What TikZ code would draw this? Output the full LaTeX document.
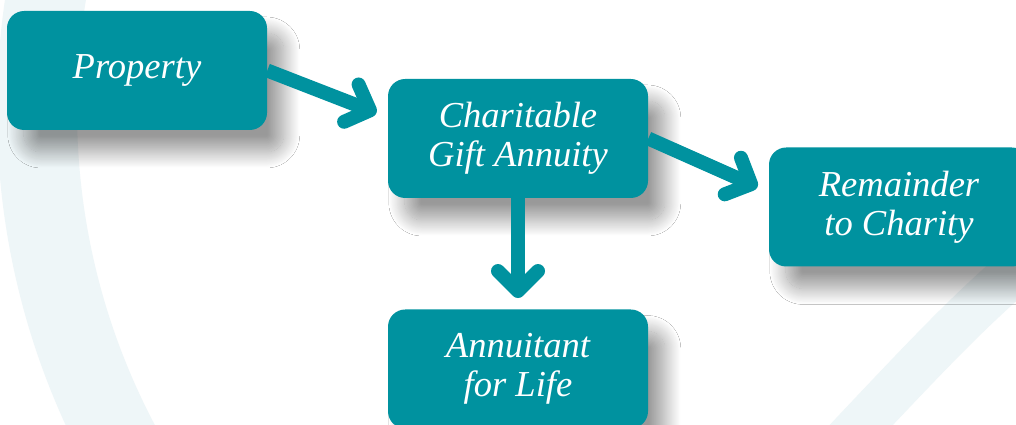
\documentclass[tikz,border=0pt]{standalone}
\usepackage{fontspec}
\setmainfont{Liberation Serif}
\usetikzlibrary{arrows.meta,shadows.blur}
\definecolor{cgateal}{HTML}{00929F}
\definecolor{ringtint}{HTML}{EEF6F8}
\begin{document}
\begin{tikzpicture}[
    box/.style={fill=cgateal, rounded corners=0.43cm, minimum width=6.5cm,
        minimum height=2.975cm, text=white, align=center,
        font=\fontsize{26}{27.5}\selectfont\itshape,
        blur shadow={shadow xshift=0.42cm, shadow yshift=-0.55cm,
            shadow blur radius=0.4cm, shadow blur steps=24, shadow opacity=40}},
    flow/.style={draw=cgateal, line width=0.35cm,
        -{Straight Barb[round, length=0.5cm, width=1.0cm]}}]
\useasboundingbox (0,0) rectangle (25.4,10.625);
\clip (0,0) rectangle (25.4,10.625);
\fill[white] (0,0) rectangle (25.4,10.625);
% pale ring behind the chart
\draw[ringtint, line width=2cm] (18.8,7.875) circle (17.875);
\draw[ringtint, line width=1.15cm] (26.25,4.625) .. controls (24,2.625) .. (20,-1.625);
% boxes
\node[box] (prop) at (3.425,8.8625) {Property};
\node[box] (cga) at (12.95,7.1625) {Charitable\\Gift Annuity};
\node[box] (rem) at (22.475,5.45) {Remainder\\to Charity};
\node[box] (ann) at (12.95,1.4) {Annuitant\\for Life};
% arrows
\draw[flow] (prop.east) -- ([xshift=-0.28cm,yshift=0.64cm]cga.west);
\draw[flow] (cga.east) -- ([xshift=-0.28cm,yshift=0.5cm]rem.west);
\draw[flow, shorten >=0.28cm] (cga.south) -- (ann.north);
\end{tikzpicture}
\end{document}
